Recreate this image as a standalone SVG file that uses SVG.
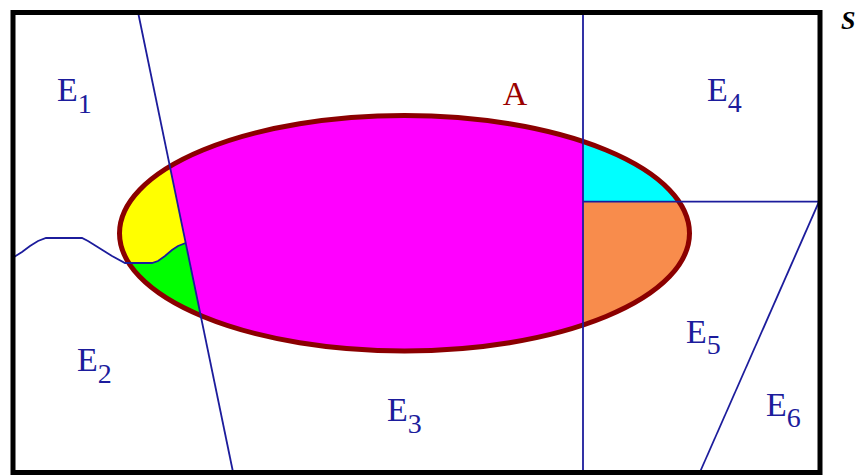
<svg xmlns="http://www.w3.org/2000/svg" width="867" height="475" viewBox="0 0 867 475">
  <style>
    .lbl { font-family: "Liberation Serif", "Times New Roman", serif; font-size: 34px; fill: #1c1c9c; }
    .sub { font-size: 28px; }
    .part { fill: none; stroke: #1c1c9c; stroke-width: 1.8; }
  </style>
  <defs>
    <clipPath id="ellClip">
      <ellipse cx="404.5" cy="233.25" rx="285" ry="117.75"/>
    </clipPath>
  </defs>
  <rect x="0" y="0" width="867" height="475" fill="#ffffff"/>

  <g id="event-A-regions" clip-path="url(#ellClip)">
    <rect id="region-A-E3" x="100" y="100" width="600" height="300" fill="#ff00ff"/>
    <path id="region-A-E1" d="M100,100 L156.2,100 L185.7,243 L178,246 L172,250 L165,256 L158,261 L152,263 L125,263 L112,256 L100,250 Z" fill="#ffff00"/>
    <path id="region-A-E2" d="M100,250 L112,256 L125,263 L152,263 L158,261 L165,256 L172,250 L178,246 L185.7,243 L218.1,400 L100,400 Z" fill="#00ff00"/>
    <rect id="region-A-E4" x="583" y="100" width="120" height="101.7" fill="#00ffff"/>
    <rect id="region-A-E5" x="583" y="201.7" width="120" height="200" fill="#f88c4c"/>
  </g>

  <g id="event-A">
    <ellipse cx="404.5" cy="233.25" rx="285" ry="117.75" fill="none" stroke="#8b0000" stroke-width="5"/>
  </g>

  <g id="partition-lines">
    <line class="part" x1="138" y1="12" x2="233" y2="472"/>
    <line class="part" x1="583" y1="12" x2="583" y2="472"/>
    <line class="part" x1="583" y1="201.7" x2="819" y2="201.7"/>
    <line class="part" x1="819" y1="201.7" x2="700" y2="472"/>
    <polyline class="part" stroke-width="2" points="14,257 22,252 30,246 38,241 46,238 82,238 88,241 96,246 104,251 112,256 125,263 152,263 158,261 165,256 172,250 178,246 185.7,243"/>
  </g>

  <g id="sample-space">
    <rect x="13" y="12.5" width="807" height="460" fill="none" stroke="#000000" stroke-width="5"/>
    <text x="841" y="29" font-family="'Liberation Serif', 'Times New Roman', serif" font-size="26" font-weight="bold" font-style="italic" fill="#000000">S</text>
  </g>

  <g id="label-A">
    <text x="515" y="105" text-anchor="middle" font-family="'Liberation Serif', 'Times New Roman', serif" font-size="34" fill="#9a0000">A</text>
  </g>
  <g id="label-E1"><text class="lbl" x="57" y="101">E<tspan class="sub" dy="12">1</tspan></text></g>
  <g id="label-E2"><text class="lbl" x="77" y="371">E<tspan class="sub" dy="12">2</tspan></text></g>
  <g id="label-E3"><text class="lbl" x="387" y="421">E<tspan class="sub" dy="12">3</tspan></text></g>
  <g id="label-E4"><text class="lbl" x="707" y="101">E<tspan class="sub" dy="11">4</tspan></text></g>
  <g id="label-E5"><text class="lbl" x="686" y="343">E<tspan class="sub" dy="11">5</tspan></text></g>
  <g id="label-E6"><text class="lbl" x="766" y="416">E<tspan class="sub" dy="11">6</tspan></text></g>
</svg>
